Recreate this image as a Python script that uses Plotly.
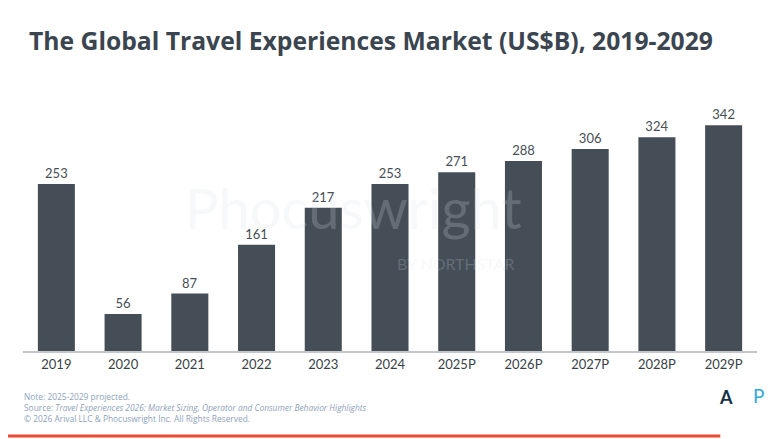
import plotly.graph_objects as go

years = ["2019", "2020", "2021", "2022", "2023", "2024",
         "2025P", "2026P", "2027P", "2028P", "2029P"]
market_size = [253, 56, 87, 161, 217, 253, 271, 288, 306, 324, 342]

bar_color = "#454e57"
text_color = "#3b4550"
note_color = "#8ea3bb"

fig = go.Figure(go.Bar(
    x=years,
    y=market_size,
    marker=dict(color=bar_color, line=dict(width=0)),
    text=market_size,
    textposition="outside",
    textfont=dict(family="Lato, Noto Sans, sans-serif", size=13, color="#474e55"),
    cliponaxis=False,
))

# page body has an 8px margin, so the figure is sized to fit the window
fig.update_layout(
    width=772, height=431,
    margin=dict(l=15, r=23, t=92, b=88),
    paper_bgcolor="white", plot_bgcolor="white",
    bargap=0.445,
    showlegend=False,
    font=dict(family="Lato, Noto Sans, sans-serif"),
    xaxis=dict(
        showline=True, linecolor="#c3c6ca", linewidth=2,
        ticks="", showgrid=False,
        tickfont=dict(size=13, color="#383f46"),
        fixedrange=True,
    ),
    yaxis=dict(
        range=[0, 380.3], visible=False, showgrid=False, fixedrange=True,
    ),
)

# title
fig.add_annotation(
    text="<b>The Global Travel Experiences Market (US$B), 2019-2029</b>",
    xref="paper", yref="paper", x=0.0055, y=1.239,
    xanchor="left", yanchor="middle", showarrow=False,
    font=dict(family="Open Sans, sans-serif", size=24.7, color=text_color),
)

# faint watermark
fig.add_annotation(
    text="Phocuswright", xref="paper", yref="paper",
    x=0.45, y=0.57, showarrow=False,
    font=dict(family="Lato, sans-serif", size=56, color="rgba(215,222,230,0.22)"),
)
fig.add_annotation(
    text="BY NORTHSTAR", xref="paper", yref="paper",
    x=0.59, y=0.35, showarrow=False,
    font=dict(family="Lato, sans-serif", size=16, color="rgba(215,222,230,0.22)"),
)

# footer notes
footer = [
    "Note: 2025-2029 projected.",
    "Source: <i>Travel Experiences 2026: Market Sizing, Operator and Consumer Behavior Highlights</i>",
    "\u00a9 2026 Arival LLC & Phocuswright Inc. All Rights Reserved.",
]
for i, line in enumerate(footer):
    fig.add_annotation(
        text=line, xref="paper", yref="paper",
        x=-0.001, y=-0.183 - i * 0.042, xanchor="left", yanchor="middle",
        showarrow=False,
        font=dict(family="Open Sans, sans-serif", size=8.4, color=note_color),
    )

# logos
fig.add_annotation(
    text="<b>A</b>", xref="paper", yref="paper", x=0.97, y=-0.235,
    showarrow=False, font=dict(family="Lato, sans-serif", size=18, color="#163247"),
)
fig.add_annotation(
    text="P", xref="paper", yref="paper", x=1.012, y=-0.232,
    showarrow=False, font=dict(family="Lato, sans-serif", size=19, color="#2fa9d8"),
)

# bottom accent line
fig.add_shape(
    type="line", xref="paper", yref="paper",
    x0=-0.03, x1=0.95, y0=-0.339, y1=-0.339,
    line=dict(color="#f04b32", width=3),
)

fig.write_html("out.html")
